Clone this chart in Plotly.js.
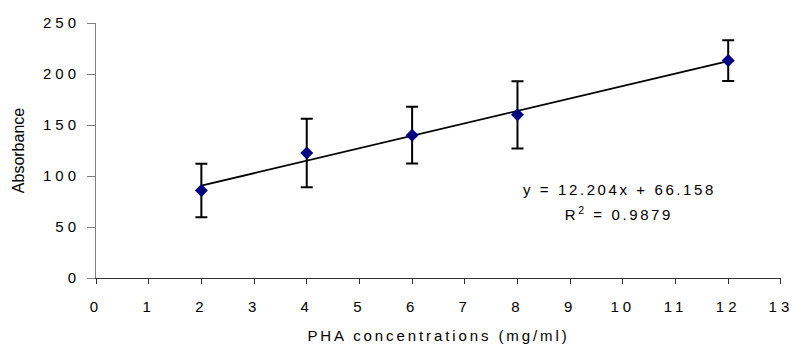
<!DOCTYPE html>
<html>
<head>
<meta charset="utf-8">
<script src="https://cdn.plot.ly/plotly-3.0.1.min.js"></script>
<style>
  html, body { margin: 0; padding: 0; background: #fff; }
  #chart { width: 792px; height: 344px; }
  g.xtick text, g.ytick text { letter-spacing: 4px; }
  g.annotation text { letter-spacing: 2.6px; }
  text.xtitle { letter-spacing: 2.9px; }
</style>
</head>
<body>
<div id="chart"></div>
<script>
// Data
const concentrations = [2, 4, 6, 8, 12];
const absorbance = [85.7, 122.5, 140.0, 160.0, 213.2];
const errorValues = [26.2, 33.6, 27.8, 33.0, 20.0];
const trendSlope = 12.204;
const trendIntercept = 66.158;
const rSquared = 0.9879;
const xTickValues = [0,1,2,3,4,5,6,7,8,9,10,11,12,13];
const yTickValues = [0,50,100,150,200,250];

const xMin = Math.min(...concentrations);
const xMax = Math.max(...concentrations);
const trendX = [xMin, xMax];
const trendY = trendX.map(x => trendSlope * x + trendIntercept);

const font = 'Liberation Sans, Arial, sans-serif';

const traces = [
  {
    x: trendX, y: trendY, mode: 'lines', type: 'scatter',
    line: { color: '#000000', width: 1.8 },
    hoverinfo: 'skip', showlegend: false
  },
  {
    x: concentrations, y: absorbance, mode: 'markers', type: 'scatter',
    marker: { symbol: 'diamond', size: 10, color: '#000080', line: { width: 0 } },
    error_y: { type: 'data', array: errorValues, visible: true, color: '#000000', thickness: 2, width: 6 },
    showlegend: false
  }
];

const layout = {
  width: 792, height: 344,
  margin: { l: 96, r: 11, t: 23, b: 66 },
  paper_bgcolor: '#ffffff', plot_bgcolor: '#ffffff',
  font: { family: font, size: 15, color: '#000000' },
  showlegend: false,
  xaxis: {
    range: [0, 13.002], tickvals: xTickValues, ticktext: xTickValues.map(String),
    showgrid: false, zeroline: false, showline: true, linecolor: '#333333', linewidth: 1,
    ticks: 'outside', ticklen: 5, tickcolor: '#333333', tickwidth: 1,
    ticklabelstandoff: 10, ticklabeloverflow: 'allow',
    tickfont: { family: font, size: 15, color: '#000000' },
    title: { text: 'PHA concentrations (mg/ml)', font: { family: font, size: 15, color: '#000000' }, standoff: 24 },
    automargin: false, fixedrange: true
  },
  yaxis: {
    range: [0, 250], tickvals: yTickValues, ticktext: yTickValues.map(String),
    showgrid: false, zeroline: false, showline: true, linecolor: '#808080', linewidth: 1,
    ticks: 'outside', ticklen: 8, tickcolor: '#808080', tickwidth: 1,
    ticklabelstandoff: 4,
    tickfont: { family: font, size: 15, color: '#000000' },
    title: { text: 'Absorbance', font: { family: font, size: 16, color: '#000000' }, standoff: 14 },
    automargin: false, fixedrange: true
  },
  annotations: [
    {
      x: 9.93, y: 86.4, xref: 'x', yref: 'y', showarrow: false,
      text: 'y = ' + trendSlope.toFixed(3) + 'x + ' + trendIntercept.toFixed(3),
      font: { family: font, size: 15, color: '#000000' }, xanchor: 'center', yanchor: 'middle'
    },
    {
      x: 9.93, y: 63.5, xref: 'x', yref: 'y', showarrow: false,
      text: 'R<sup>2</sup> = ' + rSquared.toFixed(4),
      font: { family: font, size: 15, color: '#000000' }, xanchor: 'center', yanchor: 'middle'
    }
  ]
};

Plotly.newPlot('chart', traces, layout, { staticPlot: true, displayModeBar: false });
</script>
</body>
</html>
